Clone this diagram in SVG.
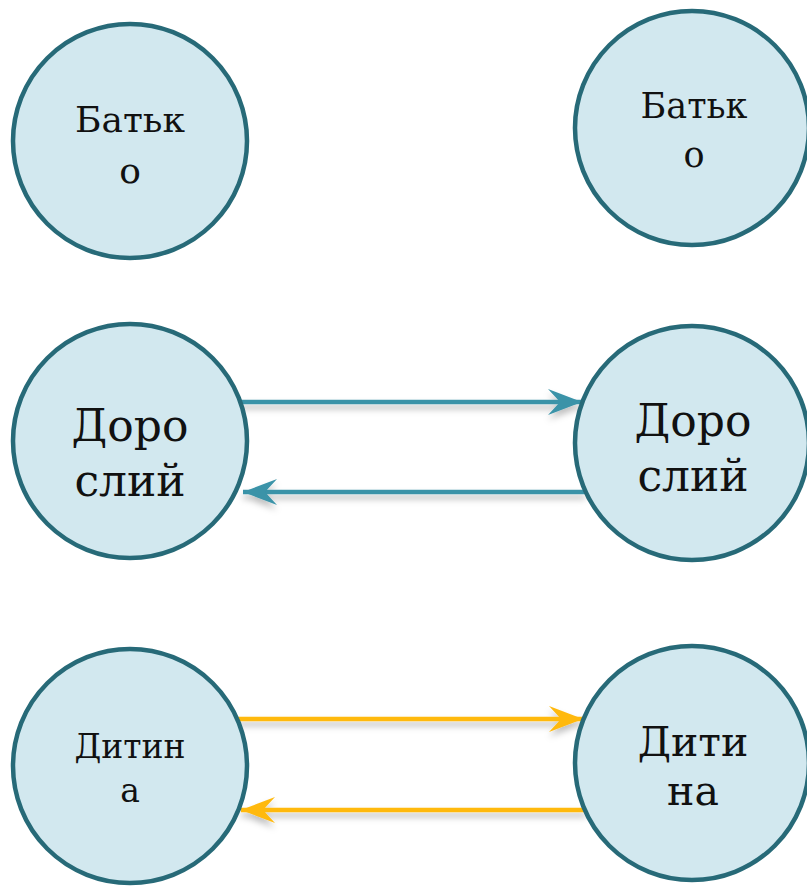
<svg xmlns="http://www.w3.org/2000/svg" width="807" height="886" viewBox="0 0 807 886">
<style>
.node circle{fill:#D2E8EF;stroke:#276A78;stroke-width:4.5}
.node text{font-family:'DejaVu Serif','Liberation Serif',serif;fill:#111;text-anchor:middle}
.teal{stroke:#3A93A8;stroke-width:4.5;fill:none}
.gold{stroke:#FFB90F;stroke-width:4.5;fill:none}
</style>
<defs>
<filter id="sh" x="-5%" y="-100%" width="110%" height="400%">
<feDropShadow dx="0" dy="5" stdDeviation="3" flood-color="#000" flood-opacity="0.25"/>
</filter>
<marker id="at" markerUnits="userSpaceOnUse" markerWidth="40" markerHeight="30" viewBox="-36 -15 40 30" refX="0" refY="0" orient="auto">
<path d="M0,0 L-34,-13 L-22,0 L-34,13 Z" fill="#3A93A8"/>
</marker>
<marker id="ag" markerUnits="userSpaceOnUse" markerWidth="40" markerHeight="30" viewBox="-36 -15 40 30" refX="0" refY="0" orient="auto">
<path d="M0,0 L-34,-13 L-22,0 L-34,13 Z" fill="#FFB90F"/>
</marker>
</defs>
<g id="connectors" filter="url(#sh)">
<line class="teal" x1="240" y1="402" x2="582" y2="402" marker-end="url(#at)"/>
<line class="teal" x1="585" y1="492" x2="243" y2="492" marker-end="url(#at)"/>
<line class="gold" x1="238" y1="719" x2="583" y2="719" marker-end="url(#ag)"/>
<line class="gold" x1="586" y1="810" x2="241" y2="810" marker-end="url(#ag)"/>
</g>
<g id="n1" class="node"><circle cx="130" cy="141" r="117"/><text x="130" y="132" font-size="36">Батьк</text><text x="130" y="183" font-size="36">о</text></g>
<g id="n2" class="node"><circle cx="692" cy="128" r="117"/><text x="694" y="118" font-size="35">Батьк</text><text x="694" y="167" font-size="35">о</text></g>
<g id="n3" class="node"><circle cx="130" cy="441" r="117"/><text x="130" y="441" font-size="44">Доро</text><text x="130" y="496" font-size="44">слий</text></g>
<g id="n4" class="node"><circle cx="692" cy="443" r="117"/><text x="693" y="436" font-size="44">Доро</text><text x="693" y="491" font-size="44">слий</text></g>
<g id="n5" class="node"><circle cx="130" cy="766" r="117"/><text x="130" y="758" font-size="33">Дитин</text><text x="130" y="802" font-size="33">а</text></g>
<g id="n6" class="node"><circle cx="692" cy="763" r="117"/><text x="693" y="756" font-size="41">Дити</text><text x="693" y="805" font-size="41">на</text></g>
</svg>
